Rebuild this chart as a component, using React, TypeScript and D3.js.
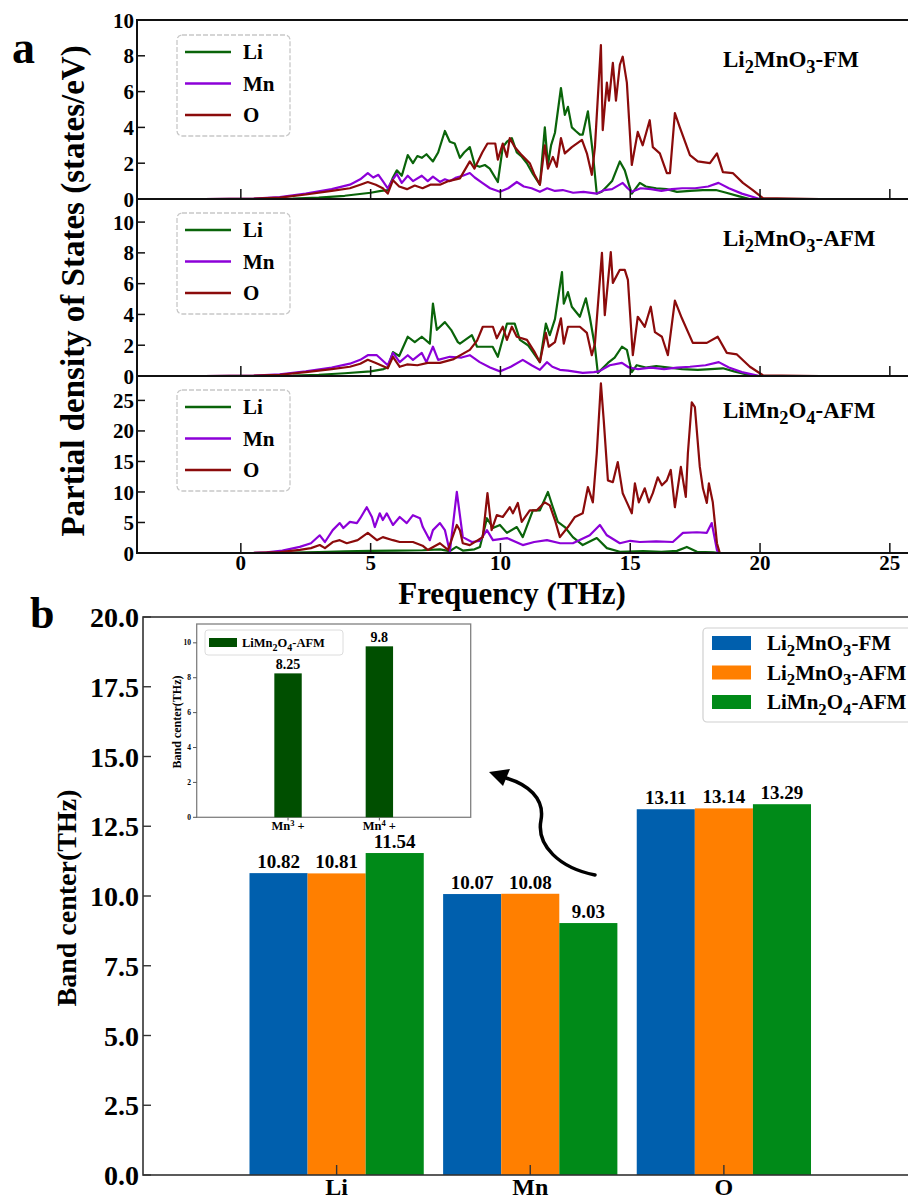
import * as d3 from 'd3';

const tx = { style: { fontFamily: "'Liberation Serif', 'Times New Roman', serif", fontWeight: 700 } };

// ---- panel a: partial phonon DOS ----
const freqTicks = [0, 5, 10, 15, 20, 25];
const elements = ['Li', 'Mn', 'O'];
const elementColors = ['#0a640a', '#8c00d8', '#8b0b0b'];

type Pt = [number, number];

const fmLi: Pt[] = [[-1.4,0],[1,0],[2,0.02],[3,0.08],[4,0.18],[5,0.35],[5.4,0.45],[5.66,0.5],[5.86,1.2],[6.01,1.6],[6.2,1.3],[6.43,2.45],[6.63,2.0],[6.8,2.4],[6.97,2.3],[7.15,2.5],[7.4,2.1],[7.6,2.6],[7.86,3.8],[8.05,3.2],[8.24,3.1],[8.44,2.3],[8.6,2.6],[8.82,2.9],[9.01,1.9],[9.2,1.8],[9.4,1.9],[9.59,1.7],[9.9,0.95],[10.09,2.9],[10.25,3.2],[10.44,3.4],[10.63,2.6],[10.8,2.4],[11.02,2.0],[11.25,1.4],[11.52,0.8],[11.71,4.0],[11.83,1.9],[11.95,3.0],[12.1,3.7],[12.33,6.2],[12.48,4.7],[12.6,5.15],[12.75,4.0],[12.9,3.8],[13.06,3.6],[13.17,3.6],[13.37,4.9],[13.56,2.55],[13.71,0.3],[13.9,0.4],[14.1,0.7],[14.3,1.0],[14.6,2.1],[14.79,1.6],[14.95,0.8],[15.06,0.3],[15.37,0.9],[15.6,0.7],[16.0,0.6],[16.4,0.55],[16.8,0.4],[17.3,0.45],[17.8,0.5],[18.3,0.5],[18.7,0.35],[19.2,0.15],[19.6,0],[22.3,0]];
const fmMn: Pt[] = [[-1.4,0],[0.5,0.02],[1.5,0.1],[2.5,0.3],[3.5,0.55],[4.2,0.8],[4.6,1.1],[4.89,1.45],[5.1,1.2],[5.3,1.35],[5.47,1.0],[5.66,0.6],[5.86,1.1],[6.01,1.4],[6.2,0.9],[6.43,1.3],[6.63,1.0],[6.97,1.3],[7.2,1.0],[7.4,1.25],[7.67,0.95],[7.86,1.1],[8.05,1.0],[8.3,1.2],[8.55,1.3],[8.82,1.45],[9.01,1.2],[9.3,0.9],[9.6,0.6],[9.98,0.4],[10.3,0.6],[10.63,0.95],[10.9,0.7],[11.2,0.6],[11.52,0.4],[11.8,0.6],[12.1,0.45],[12.4,0.5],[12.8,0.35],[13.2,0.4],[13.71,0.3],[14.0,0.5],[14.3,0.55],[14.71,0.9],[14.9,0.6],[15.06,0.4],[15.4,0.6],[15.8,0.55],[16.2,0.45],[16.6,0.55],[17.0,0.6],[17.5,0.6],[18.0,0.7],[18.4,0.9],[18.8,0.6],[19.3,0.3],[19.99,0],[22.3,0]];
const fmO: Pt[] = [[-1.4,0],[0.5,0.02],[1.5,0.08],[2.5,0.25],[3.5,0.45],[4.2,0.6],[4.6,0.8],[4.89,0.95],[5.2,0.8],[5.47,0.6],[5.66,0.3],[5.86,1.05],[6.1,0.7],[6.4,0.55],[6.7,0.75],[7.0,0.6],[7.3,0.8],[7.67,0.8],[8.0,1.0],[8.44,1.15],[8.82,2.1],[9.0,1.7],[9.3,2.6],[9.5,3.1],[9.8,3.1],[9.9,2.2],[10.09,3.1],[10.25,2.35],[10.36,3.4],[10.55,2.9],[10.82,2.45],[11.13,2.0],[11.3,1.4],[11.52,0.8],[11.71,3.0],[11.83,1.7],[12.02,2.35],[12.17,1.8],[12.33,3.4],[12.48,2.55],[12.75,2.9],[13.14,3.3],[13.33,2.55],[13.52,1.35],[13.64,2.9],[13.87,8.6],[13.94,3.85],[14.1,6.5],[14.18,5.5],[14.33,7.6],[14.45,5.5],[14.6,7.5],[14.71,7.95],[14.87,6.5],[15.06,1.9],[15.29,3.75],[15.48,3.0],[15.75,4.4],[15.87,2.9],[16.14,2.55],[16.41,1.45],[16.53,1.45],[16.72,4.8],[16.91,4.0],[17.3,2.45],[17.6,2.1],[18.07,2.0],[18.34,2.55],[18.57,1.5],[18.95,1.45],[19.34,0.9],[19.72,0.5],[20.11,0.05],[22.3,0]];

const afmLi: Pt[] = [[-1.4,0],[1,0],[2,0.02],[3,0.08],[4,0.18],[5,0.3],[5.5,0.45],[5.66,0.55],[5.86,1.55],[6.1,1.3],[6.43,2.55],[6.7,2.2],[6.97,2.55],[7.28,2.1],[7.4,4.7],[7.55,3.0],[7.86,3.5],[8.1,3.0],[8.36,2.2],[8.44,2.1],[8.9,2.65],[9.1,1.9],[9.7,1.9],[9.9,1.25],[10.25,3.4],[10.55,3.4],[10.75,2.35],[11.06,2.0],[11.52,0.9],[11.75,3.4],[11.9,2.65],[12.1,3.7],[12.37,6.75],[12.44,4.7],[12.6,5.45],[12.75,4.5],[13.06,3.85],[13.29,5.05],[13.44,3.85],[13.64,1.9],[13.75,0.2],[14.14,0.85],[14.4,1.2],[14.68,1.9],[14.87,1.7],[15.06,0.25],[15.25,0.7],[15.6,0.55],[16.0,0.65],[16.5,0.55],[17.0,0.45],[17.6,0.4],[18.1,0.45],[18.57,0.5],[19.0,0.3],[19.72,0],[22.3,0]];
const afmMn: Pt[] = [[-1.4,0],[0.5,0.02],[1.5,0.1],[2.5,0.3],[3.5,0.55],[4.2,0.8],[4.6,1.05],[4.89,1.35],[5.24,1.35],[5.66,0.7],[5.86,1.5],[6.12,0.9],[6.43,1.35],[6.63,1.05],[6.97,1.5],[7.15,0.9],[7.4,1.9],[7.6,1.05],[8.05,1.25],[8.5,1.2],[8.82,1.35],[9.2,0.9],[9.6,0.55],[9.98,0.3],[10.4,0.6],[10.86,1.05],[11.2,0.7],[11.52,0.4],[11.79,0.9],[12.0,0.6],[12.29,0.4],[12.6,0.35],[13.17,0.2],[13.6,0.25],[13.8,0.3],[14.21,0.7],[14.68,0.85],[14.95,0.55],[15.3,0.45],[15.8,0.55],[16.3,0.45],[16.8,0.55],[17.3,0.6],[17.9,0.7],[18.41,0.9],[18.8,0.55],[19.3,0.25],[19.99,0],[22.3,0]];
const afmO: Pt[] = [[-1.4,0],[0.5,0.02],[1.5,0.08],[2.5,0.25],[3.5,0.45],[4.2,0.6],[4.6,0.8],[4.89,1.05],[5.2,0.85],[5.66,0.5],[5.86,1.25],[6.12,0.6],[6.4,0.75],[6.8,0.7],[7.2,0.85],[7.67,0.85],[8.2,1.1],[8.82,1.7],[9.1,2.3],[9.32,3.2],[9.71,3.2],[9.86,2.45],[10.09,3.2],[10.25,2.35],[10.44,3.2],[10.63,2.55],[11.02,2.35],[11.3,1.6],[11.52,0.9],[11.75,2.8],[11.86,1.9],[12.1,2.2],[12.33,3.75],[12.44,2.1],[12.6,3.2],[13.06,3.2],[13.33,2.8],[13.52,1.35],[13.64,2.1],[13.91,8.0],[14.02,3.95],[14.25,8.05],[14.33,6.05],[14.6,6.9],[14.79,6.9],[14.91,6.25],[15.1,1.35],[15.29,3.85],[15.56,3.2],[15.79,4.5],[15.95,2.85],[16.22,2.55],[16.45,1.35],[16.72,4.9],[16.99,3.75],[17.41,2.15],[17.95,2.15],[18.37,2.55],[18.72,1.5],[19.11,1.4],[19.61,0.6],[20.11,0.05],[22.3,0]];

const limLi: Pt[] = [[-1.4,0],[1,0],[2,0.05],[3,0.15],[4,0.25],[5,0.35],[6,0.4],[7,0.45],[7.67,0.6],[8.05,0.3],[8.3,1.0],[8.55,0.4],[9.0,0.6],[9.21,1.0],[9.48,5.7],[9.71,4.1],[9.98,4.6],[10.25,3.3],[10.63,4.25],[10.86,2.6],[11.25,7.0],[11.52,7.0],[11.83,10.0],[12.02,7.5],[12.21,5.1],[12.48,4.25],[12.79,2.6],[13.17,1.3],[13.71,2.45],[14.1,0.8],[14.6,0.2],[15.5,0.3],[16.2,0.2],[16.8,0.35],[17.18,1.0],[17.57,0.2],[18.2,0.1],[18.45,0],[22.3,0]];
const limMn: Pt[] = [[-1.4,0],[0.5,0.02],[1.0,0.1],[1.6,0.4],[2.27,1.0],[2.7,1.6],[3.04,2.9],[3.24,1.8],[3.54,3.75],[3.81,4.9],[3.95,4.1],[4.2,5.1],[4.47,4.9],[4.6,5.7],[4.85,7.5],[5.05,5.9],[5.16,4.25],[5.35,6.5],[5.47,5.4],[5.62,6.5],[5.86,4.6],[6.12,5.9],[6.39,4.9],[6.63,6.2],[6.9,5.7],[7.01,4.25],[7.28,2.1],[7.4,3.75],[7.67,4.9],[7.86,3.75],[8.05,0.2],[8.32,10.0],[8.55,2.6],[8.9,1.8],[9.2,2.0],[9.48,3.75],[9.71,2.1],[10.25,2.45],[10.86,1.3],[11.3,1.8],[11.79,2.1],[12.3,1.6],[12.79,1.6],[13.44,2.9],[13.83,4.6],[14.1,2.9],[14.6,1.6],[15.0,2.0],[15.37,1.8],[16.0,1.9],[16.64,1.8],[17.03,3.3],[17.57,3.4],[17.95,3.3],[18.14,4.9],[18.34,0.5],[18.4,0],[22.3,0]];
const limO: Pt[] = [[-1.4,0],[0.5,0.02],[1.5,0.15],[2.27,0.5],[2.7,0.8],[3.04,1.3],[3.24,0.8],[3.54,1.8],[3.81,2.1],[4.08,1.6],[4.5,2.1],[4.89,3.3],[5.24,2.1],[5.47,2.6],[5.86,2.1],[6.12,1.8],[6.63,1.8],[7.0,1.2],[7.2,0.5],[7.67,1.6],[7.98,0.5],[8.32,4.6],[8.44,3.7],[8.55,1.6],[8.82,1.3],[9.32,2.6],[9.5,9.8],[9.66,3.75],[9.86,6.2],[10.09,5.9],[10.36,7.5],[10.48,6.5],[10.67,8.2],[10.82,5.1],[11.13,7.0],[11.4,7.0],[11.71,8.3],[11.9,7.8],[12.1,5.4],[12.29,2.6],[12.6,4.25],[12.87,5.9],[13.17,6.5],[13.37,10.8],[13.56,8.3],[13.71,16.3],[13.87,27.8],[13.98,21.7],[14.14,11.9],[14.33,11.6],[14.52,14.9],[14.71,9.8],[14.87,8.3],[15.06,6.5],[15.18,11.4],[15.33,8.3],[15.56,10.6],[15.72,8.3],[15.87,9.8],[16.06,12.4],[16.22,11.1],[16.41,11.9],[16.56,13.6],[16.72,7.5],[16.95,14.1],[17.14,9.2],[17.22,16.3],[17.37,24.7],[17.49,23.9],[17.68,14.1],[17.8,10.6],[17.95,8.2],[18.03,11.4],[18.18,8.3],[18.34,1.6],[18.45,0],[22.3,0]];

type Part = [string, boolean];
const nameFM: Part[] = [['Li', false], ['2', true], ['MnO', false], ['3', true], ['-FM', false]];
const nameAFM: Part[] = [['Li', false], ['2', true], ['MnO', false], ['3', true], ['-AFM', false]];
const nameLMO: Part[] = [['LiMn', false], ['2', true], ['O', false], ['4', true], ['-AFM', false]];

const dosYmax = [10, 11.5, 29];
const dosYTicks = [[0, 2, 4, 6, 8, 10], [0, 2, 4, 6, 8, 10], [0, 5, 10, 15, 20, 25]];
const dosSeries = [[fmLi, fmMn, fmO], [afmLi, afmMn, afmO], [limLi, limMn, limO]];
const dosNames = [nameFM, nameAFM, nameLMO];

// ---- panel b: band centers ----
const bandCats = ['Li', 'Mn', 'O'];
const bandFM = [10.82, 10.07, 13.11];
const bandAFM = [10.81, 10.08, 13.14];
const bandLMO = [11.54, 9.03, 13.29];
const bandSeries = [bandFM, bandAFM, bandLMO];
const bandNames = [nameFM, nameAFM, nameLMO];
const bandColors = ['#005fad', '#ff7f00', '#008a18'];
const bandTicks = [0, 2.5, 5, 7.5, 10, 12.5, 15, 17.5, 20];

const insetCats = ['3', '4'];
const insetVals = [8.25, 9.8];
const insetTicks = [0, 2, 4, 6, 8, 10];

function chem(parts: Part[], size: number) {
  let low = false;
  return parts.map(([t, sub], i) => {
    let dy = 0;
    if (sub && !low) { dy = size * 0.28; low = true; }
    else if (!sub && low) { dy = -size * 0.28; low = false; }
    return (
      <tspan key={i} dy={dy} fontSize={sub ? size * 0.8 : size}>{t}</tspan>
    );
  });
}

export default function App() {
  const W = 908, H = 1201;
  // panel a layout
  const xA = d3.scaleLinear().domain([-4, 26]).range([137, 137 + 30 * 25.96]);
  const bounds = [[20, 199], [199, 376], [376, 553]];

  // panel b layout
  const xB = d3.scaleLinear().domain([-1, 3]).range([143, 917.5]);
  const yB = d3.scaleLinear().domain([0, 20]).range([1175, 617]);
  const bw = xB(0.3) - xB(0);

  const xI = d3.scaleLinear().domain([-1, 2]).range([196.7, 470.7]);
  const yI = d3.scaleLinear().domain([0, 11.08]).range([817.3, 624]);
  const ibw = xI(0.3) - xI(0);

  return (
    <svg width={W} height={H} style={{ position: 'absolute', left: 0, top: 0, background: '#fff' }}>
      <rect width={W} height={H} fill="#fff" />

      {/* ---------- panel a ---------- */}
      <text {...tx} x={12} y={63} fontSize={46}>a</text>
      <text {...tx} transform="translate(84,291) rotate(-90)" textAnchor="middle" fontSize={33}>
        Partial density of States (states/eV)
      </text>

      {bounds.map(([top, bottom], p) => {
        const y = d3.scaleLinear().domain([0, dosYmax[p]]).range([bottom, top]);
        const line = d3.line<Pt>().x(d => xA(d[0])).y(d => y(d[1]));
        const lg = top + (p === 0 ? 15 : 14);
        return (
          <g key={p}>
            {dosSeries[p].map((s, k) => (
              <path key={k} d={line(s) || ''} fill="none" stroke={elementColors[k]}
                strokeWidth={2.2} strokeLinejoin="round" />
            ))}
            <rect x={137} y={top} width={790} height={bottom - top} fill="none" stroke="#111" strokeWidth={2} />
            {dosYTicks[p].map(t => (
              <g key={t}>
                <line x1={137} x2={145} y1={y(t)} y2={y(t)} stroke="#111" strokeWidth={1.5} />
                <text {...tx} x={134} y={y(t)} dy="0.36em" textAnchor="end" fontSize={21}>{t}</text>
              </g>
            ))}
            {freqTicks.map(t => (
              <line key={t} x1={xA(t)} x2={xA(t)} y1={bottom} y2={bottom - 10} stroke="#111" strokeWidth={1.5} />
            ))}
            <rect x={177} y={lg} width={113} height={101} rx={5} fill="#fff" fillOpacity={0.8}
              stroke="#c8c8c8" strokeWidth={1.3} strokeDasharray="5 2" />
            {elements.map((el, k) => (
              <g key={el}>
                <line x1={185} x2={231} y1={lg + 17 + k * 31.5} y2={lg + 17 + k * 31.5}
                  stroke={elementColors[k]} strokeWidth={2.5} />
                <text {...tx} x={243} y={lg + 17 + k * 31.5} dy="0.35em" fontSize={21}>{el}</text>
              </g>
            ))}
            <text {...tx} x={723} y={top + (p === 0 ? 47 : p === 1 ? 47 : 42)} fontSize={23}>
              {chem(dosNames[p], 23)}
            </text>
          </g>
        );
      })}
      {freqTicks.map(t => (
        <text {...tx} key={t} x={xA(t)} y={570} textAnchor="middle" fontSize={21}>{t}</text>
      ))}
      <text {...tx} x={512} y={604} textAnchor="middle" fontSize={31}>Frequency (THz)</text>

      {/* ---------- panel b ---------- */}
      <text {...tx} x={30} y={628} fontSize={44}>b</text>
      <text {...tx} transform="translate(76,898) rotate(-90)" textAnchor="middle" fontSize={28}>
        Band center(THz)
      </text>

      {bandSeries.map((vals, s) => (
        <g key={s}>
          {vals.map((v, i) => {
            const x0 = xB(i + (s - 1) * 0.3) - bw / 2;
            return (
              <g key={i}>
                <rect x={x0} y={yB(v)} width={bw} height={yB(0) - yB(v)} fill={bandColors[s]} />
                <text {...tx} x={x0 + bw / 2} y={yB(v) - 5} textAnchor="middle" fontSize={19}>
                  {v.toFixed(2)}
                </text>
              </g>
            );
          })}
        </g>
      ))}

      <rect x={143} y={617} width={780} height={558} fill="none" stroke="#333" strokeWidth={1.6} />
      {bandTicks.map(t => (
        <g key={t}>
          <line x1={143} x2={151} y1={yB(t)} y2={yB(t)} stroke="#333" strokeWidth={1.4} />
          <text {...tx} x={139} y={yB(t)} dy="0.36em" textAnchor="end" fontSize={28}>{t.toFixed(1)}</text>
        </g>
      ))}
      {bandCats.map((c, i) => (
        <g key={c}>
          <line x1={xB(i)} x2={xB(i)} y1={1175} y2={1165} stroke="#333" strokeWidth={1.4} />
          <text {...tx} x={xB(i)} y={1195} textAnchor="middle" fontSize={24}>{c}</text>
        </g>
      ))}

      {/* legend b */}
      <rect x={703} y={628} width={215} height={94} rx={4} fill="#fff" stroke="#d0d0d0" strokeWidth={1.2} />
      {bandNames.map((n, k) => (
        <g key={k}>
          <rect x={712} y={636 + k * 29.5} width={39} height={14} fill={bandColors[k]} />
          <text {...tx} x={767} y={650 + k * 29.5} fontSize={21}>{chem(n, 21)}</text>
        </g>
      ))}

      {/* inset */}
      <rect x={196.7} y={624} width={274} height={193.3} fill="#fff" stroke="#808080" strokeWidth={1.3} />
      {insetTicks.map(t => (
        <g key={t}>
          <line x1={193} x2={196.7} y1={yI(t)} y2={yI(t)} stroke="#555" strokeWidth={1} />
          <text {...tx} x={191} y={yI(t)} dy="0.35em" textAnchor="end" fontSize={7.5}>{t}</text>
        </g>
      ))}
      <text {...tx} transform="translate(181,722) rotate(-90)" textAnchor="middle" fontSize={12}>
        Band center(THz)
      </text>
      {insetVals.map((v, i) => (
        <g key={i}>
          <rect x={xI(i) - ibw / 2} y={yI(v)} width={ibw} height={yI(0) - yI(v)} fill="#004f00" />
          <text {...tx} x={xI(i)} y={yI(v) - 4} textAnchor="middle" fontSize={14}>{String(v)}</text>
          <line x1={xI(i)} x2={xI(i)} y1={817.3} y2={820.5} stroke="#555" strokeWidth={1} />
          <text {...tx} x={xI(i)} y={830} textAnchor="middle" fontSize={12.5}>
            Mn<tspan dy={-4} fontSize={8.5}>{insetCats[i]}</tspan><tspan dy={4}> +</tspan>
          </text>
        </g>
      ))}
      <rect x={205} y={630} width={138} height={25} rx={3} fill="#fff" stroke="#dcdcdc" strokeWidth={1} />
      <rect x={209} y={638} width={28} height={9} fill="#004f00" />
      <text {...tx} x={242} y={647} fontSize={12.5}>{chem(nameLMO, 12.5)}</text>

      {/* arrow */}
      <path d="M595,875 C560,868 536,846 541,820 C545,798 527,784 506,778"
        fill="none" stroke="#000" strokeWidth={3.5} strokeLinecap="round" />
      <polygon points="489,772 510,769 503,786" fill="#000" />
    </svg>
  );
}
